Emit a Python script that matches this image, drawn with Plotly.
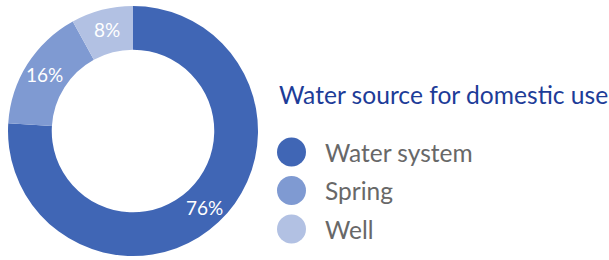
import math
import plotly.graph_objects as go

labels = ["Water system", "Spring", "Well"]
values = [76, 16, 8]
colors = ["#4066B5", "#7F9AD2", "#B2C1E3"]
title_text = "Water source for domestic use"

W, H = 609, 260
FONT = "Lato, 'Open Sans', sans-serif"

# pie geometry (pixels)
PCX, PCY, PR = 133, 131, 125
HOLE = 0.65

fig = go.Figure()
fig.add_trace(go.Pie(
    labels=labels, values=values, sort=False, direction="clockwise", rotation=0,
    hole=HOLE, marker=dict(colors=colors, line=dict(width=0)),
    textinfo="none",
    domain=dict(x=[(PCX - PR) / W, (PCX + PR) / W], y=[1 - (PCY + PR) / H, 1 - (PCY - PR) / H]),
    showlegend=False, hoverinfo="label+percent",
))

annotations = []
# percent labels at the middle of each slice, mid-ring
total = sum(values)
cum = 0
rmid = PR * (1 + HOLE) / 2 + 2
for v in values:
    frac_mid = (cum + v / 2) / total
    cum += v
    ang = 2 * math.pi * frac_mid
    x = PCX + rmid * math.sin(ang)
    y = PCY - rmid * math.cos(ang)
    annotations.append(dict(
        x=x / W, y=1 - y / H, xref="paper", yref="paper", xanchor="center", yanchor="middle",
        text=f"{round(100 * v / total)}%", showarrow=False,
        font=dict(size=19, color="white", family=FONT),
    ))

annotations.append(dict(
    x=277 / W, y=1 - 94 / H, xref="paper", yref="paper", xanchor="left", yanchor="middle",
    text=title_text, showarrow=False, font=dict(size=24.6, color="#1D3C98", family=FONT),
))
shapes = []
row_y = [152, 190.5, 229]
r = 14.5
cx = 291.5
for lab, col, yy in zip(labels, colors, row_y):
    shapes.append(dict(
        type="circle", xref="paper", yref="paper",
        x0=(cx - r) / W, x1=(cx + r) / W, y0=1 - (yy + r) / H, y1=1 - (yy - r) / H,
        fillcolor=col, line=dict(width=0),
    ))
    annotations.append(dict(
        x=323 / W, y=1 - yy / H, xref="paper", yref="paper", xanchor="left", yanchor="middle",
        text=lab, showarrow=False, font=dict(size=24.5, color="#686868", family=FONT),
    ))

fig.update_layout(
    width=W, height=H, margin=dict(l=0, r=0, t=0, b=0),
    paper_bgcolor="white", plot_bgcolor="white",
    shapes=shapes, annotations=annotations,
)
fig.write_html("out.html", config={"displayModeBar": False},
               post_script="document.body.style.margin='0';")
